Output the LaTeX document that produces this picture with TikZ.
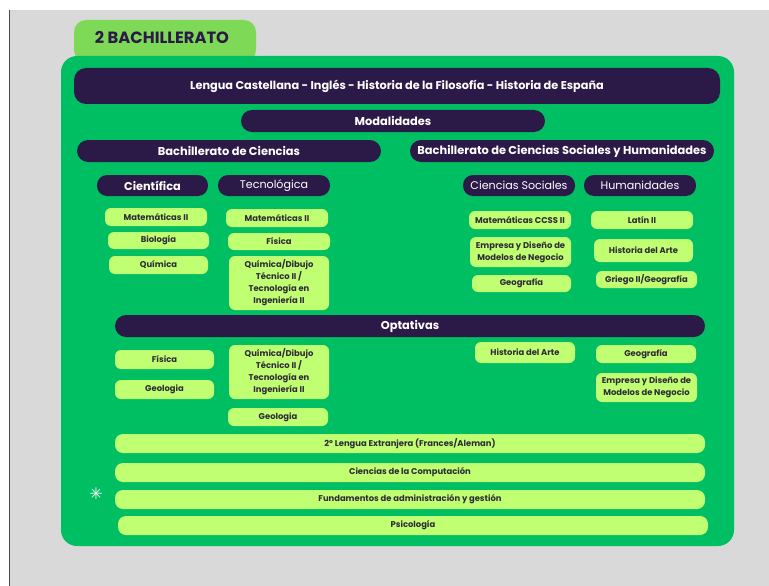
\documentclass[tikz,border=0pt]{standalone}
\usepackage{fontspec}
\setmainfont{Poppins}
\newfontfamily\symfont{DejaVu Sans}
\definecolor{bggray}{HTML}{D9D9D9}
\definecolor{panelgreen}{HTML}{00BF63}
\definecolor{tabgreen}{HTML}{7ED957}
\definecolor{itemgreen}{HTML}{C1FF72}
\definecolor{darkbar}{HTML}{2B1A47}
\definecolor{itemtext}{HTML}{2E2A36}
\newcommand\bx[7]{\node[#6, minimum width={(#4-#2)*1pt}, minimum height={(#5-#3)*1pt}] (#1) at ({(#2+#4)/2},{(#3+#5)/2}) {#7};}
\tikzset{
  every node/.style={inner sep=0pt, outer sep=0pt},
  bar/.style={fill=darkbar, rounded corners=11pt, text=white, font=\fontsize{11.4}{13}\selectfont\bfseries},
  topbar/.style={fill=darkbar, rounded corners=12pt, text=white, font=\fontsize{11.3}{13}\selectfont\bfseries, text height=8pt, text depth=0pt},
  subbar/.style={fill=darkbar, rounded corners=10pt, text=white, font=\fontsize{11.1}{13}\selectfont},
  subbarb/.style={fill=darkbar, rounded corners=10pt, text=white, font=\fontsize{11.3}{13}\selectfont\bfseries},
  item/.style={fill=itemgreen, rounded corners=6pt, text=itemtext, align=center, font=\fontsize{8.4}{12}\selectfont\bfseries},
  longitem/.style={fill=itemgreen, rounded corners=8pt, text=itemtext, font=\fontsize{8.4}{10}\selectfont\bfseries},
}
\begin{document}
\begin{tikzpicture}[x=1pt,y=-1pt]
\useasboundingbox (0,0) rectangle (769,586);
% background
\fill[white] (0,0) rectangle (769,586);
\fill[bggray] (10,10) rectangle (769,586);
\draw[black!70, line width=1.2pt] (9.5,10) -- (9.5,586);
% tab
\fill[tabgreen, rounded corners=12pt] (74,62) -- (74,20) -- (256,20) -- (256,62) -- cycle;
\node[text=darkbar, font=\fontsize{16.3}{18}\selectfont\bfseries] (tab) at (162,37) {2 BACHILLERATO};
% panel
\fill[panelgreen, rounded corners=16pt] (61,56) rectangle (734,546);
% top bars
\bx{comunes}{74}{68}{720}{104}{topbar}{Lengua Castellana - Inglés - Historia de la Filosofía - Historia de España}
\bx{modal}{241}{110}{545}{132}{bar}{Modalidades}
\bx{bcien}{77}{140}{381}{162}{bar}{Bachillerato de Ciencias}
\bx{bsoc}{410}{140}{714}{162}{bar}{Bachillerato de Ciencias Sociales y Humanidades}
\bx{cient}{97}{175}{208}{196}{subbarb}{Científica}
\bx{tecno}{218}{175}{330}{196}{subbar}{Tecnológica}
\bx{csoc}{463}{175}{575}{196}{subbar}{Ciencias Sociales}
\bx{human}{584}{175}{696}{196}{subbar}{Humanidades}
% Cientifica
\bx{c1}{105}{208}{207}{226}{item}{Matemáticas II}
\bx{c2}{108}{232}{209}{249}{item}{Biología}
\bx{c3}{109}{256}{208}{274}{item}{Química}
% Tecnologica
\bx{t1}{226}{209}{328}{227}{item}{Matemáticas II}
\bx{t2}{228}{233}{330}{250}{item}{Física}
\bx{t3}{229}{256}{329}{310}{item}{Química/Dibujo\\Técnico II /\\Tecnología en\\Ingeniería II}
% Ciencias sociales
\bx{s1}{469}{211}{571}{229}{item}{Matemáticas CCSS II}
\bx{s2}{470}{237}{571}{267}{item}{Empresa y Diseño de\\Modelos de Negocio}
\bx{s3}{472}{275}{571}{292}{item}{Geografía}
% Humanidades
\bx{h1}{591}{211}{693}{229}{item}{Latín II}
\bx{h2}{594}{239}{693}{262}{item}{Historia del Arte}
\bx{h3}{596}{271}{697}{288}{item}{Griego II/Geografía}
% Optativas
\bx{optat}{115}{315}{705}{337}{bar}{Optativas}
\bx{o1}{115}{350}{214}{369}{item}{Física}
\bx{o2}{115}{380}{214}{399}{item}{Geologia}
\bx{o3}{229}{345}{329}{399}{item}{Química/Dibujo\\Técnico II /\\Tecnología en\\Ingeniería II}
\bx{o4}{228}{408}{328}{426}{item}{Geologia}
\bx{o5}{475}{342}{575}{363}{item}{Historia del Arte}
\bx{o6}{596}{345}{696}{363}{item}{Geografía}
\bx{o7}{596}{373}{697}{402}{item}{Empresa y Diseño de\\Modelos de Negocio}
% long bars
\bx{l1}{115}{434}{705}{453}{longitem}{2º Lengua Extranjera (Frances/Aleman)}
\bx{l2}{115}{463}{705}{482}{longitem}{Ciencias de la Computación}
\bx{l3}{115}{490}{705}{509}{longitem}{Fundamentos de administración y gestión}
\bx{l4}{118}{516}{708}{535}{longitem}{Psicología}
\node[text=white, font=\symfont\bfseries\fontsize{16}{16}\selectfont] (star) at (96,494) {✳};
\end{tikzpicture}
\end{document}
